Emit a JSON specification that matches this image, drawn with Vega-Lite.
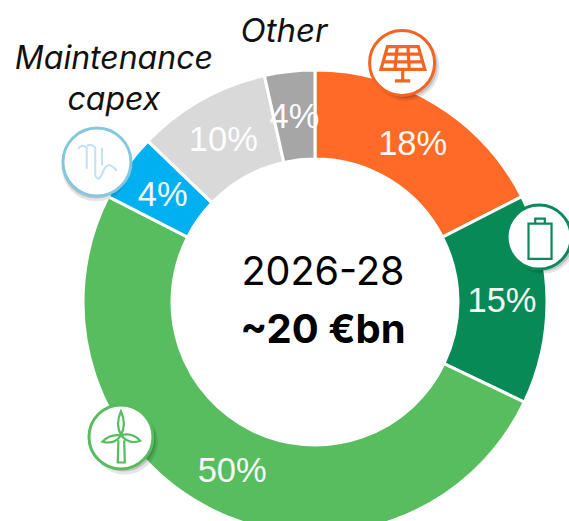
{
"$schema":"https://vega.github.io/schema/vega-lite/v6.json",
"width":508,"height":438,
"autosize":"none",
"padding":{"left":61,"top":83,"right":0,"bottom":0},
"background":"white",
"config":{"view":{"stroke":null}},
"data":{"values":[
{"segment":"Solar","share":17.5,"rank":1,"label":"18%"},
{"segment":"Storage","share":14.6,"rank":2,"label":"15%"},
{"segment":"Wind","share":50.4,"rank":3,"label":"50%"},
{"segment":"Maintenance\ncapex","share":4.7,"rank":4,"label":"4%"},
{"segment":"Grid","share":9.3,"rank":5,"label":"10%"},
{"segment":"Other","share":3.5,"rank":6,"label":"4%"}
]},
"layer":[
{"mark":{"type":"arc","innerRadius":143,"outerRadius":232,"stroke":"white","strokeWidth":3},
 "encoding":{"theta":{"field":"share","type":"quantitative","stack":true},"order":{"field":"rank","type":"quantitative"},
 "color":{"field":"segment","type":"nominal","legend":null,"scale":{"domain":["Solar","Storage","Wind","Maintenance\ncapex","Grid","Other"],"range":["#ff6a26","#078a56","#57bd5f","#00b0f0","#d9d9d9","#a6a6a6"]}}}},
{"mark":{"type":"text","radius":187,"dy":2,"fontSize":34.5,"font":"Liberation Sans","color":"white","opacity":0.95,"baseline":"middle"},
 "encoding":{"theta":{"field":"share","type":"quantitative","stack":true},"order":{"field":"rank","type":"quantitative"},"text":{"field":"label"}}},
{"mark":{"type":"text","radius":274,"dx":-1,"dy":2,"fontSize":33,"font":"Inter","fontStyle":"italic","color":"#111111","baseline":"middle"},
 "encoding":{"theta":{"field":"share","type":"quantitative","stack":true},"order":{"field":"rank","type":"quantitative"},
 "text":{"condition":{"test":"datum.segment=='Other'","field":"segment"},"value":""}}},
{"mark":{"type":"text","radius":250,"dx":2.5,"dy":-98,"fontSize":32,"font":"Inter","fontStyle":"italic","color":"#111111","baseline":"middle","lineBreak":"\n","lineHeight":41},
 "encoding":{"theta":{"field":"share","type":"quantitative","stack":true},"order":{"field":"rank","type":"quantitative"},
 "text":{"condition":{"test":"datum.rank==4","field":"segment"},"value":""}}},
{"data":{"values":[{"t":"2026-28"}]},"mark":{"type":"text","dx":8,"dy":-29,"fontSize":39.5,"font":"Inter","color":"#000000","baseline":"middle"},"encoding":{"text":{"field":"t"}}},
{"data":{"values":[{"t":"~20 €bn"}]},"mark":{"type":"text","dx":8,"dy":29,"fontSize":40,"font":"Inter","fontWeight":"bold","color":"#000000","baseline":"middle"},"encoding":{"text":{"field":"t"}}},
{"transform":[{"filter":"datum.rank==1"}],
 "encoding":{"x":{"datum":0.377,"type":"quantitative","axis":null,"scale":{"domain":[-1.0996,1.0996],"nice":false,"zero":false}},"y":{"datum":1.035,"type":"quantitative","axis":null,"scale":{"domain":[-0.948,0.948],"nice":false,"zero":false}}},
 "layer":[
 {"mark":{"type":"point","filled":true,"size":4500,"color":"#000000","opacity":0.1,"xOffset":4,"yOffset":4,"shape":"circle"}},
 {"mark":{"type":"point","filled":true,"size":4200,"color":"#000000","opacity":0.15,"xOffset":3,"yOffset":3,"shape":"circle"}},
 {"mark":{"type":"point","fill":"white","fillOpacity":1,"stroke":"#f26522","strokeWidth":3,"size":4225,"shape":"circle","opacity":1}},
 {"mark":{"type":"point","fill":"transparent","stroke":"#f26522","strokeWidth":3.2,"size":4225,"opacity":1,"shape":"M-0.45 -0.5L0.5 -0.5L0.7 0.2L-0.65 0.2Z M-0.5 -0.27L0.55 -0.27 M-0.58 -0.03L0.62 -0.03 M-0.15 -0.5L-0.22 0.2 M0.18 -0.5L0.22 0.2 M0.02 0.2L0.02 0.55 M-0.22 0.55L0.25 0.55"}}
 ]},
{"transform":[{"filter":"datum.rank==2"}],
 "encoding":{"x":{"datum":0.97,"type":"quantitative","axis":null,"scale":{"domain":[-1.0996,1.0996],"nice":false,"zero":false}},"y":{"datum":0.281,"type":"quantitative","axis":null,"scale":{"domain":[-0.948,0.948],"nice":false,"zero":false}}},
 "layer":[
 {"mark":{"type":"point","filled":true,"size":4300,"color":"#000000","opacity":0.1,"xOffset":4,"yOffset":4,"shape":"circle"}},
 {"mark":{"type":"point","filled":true,"size":4000,"color":"#000000","opacity":0.15,"xOffset":3,"yOffset":3,"shape":"circle"}},
 {"mark":{"type":"point","fill":"white","fillOpacity":1,"stroke":"#0a8a5a","strokeWidth":3,"size":4096,"shape":"circle","opacity":1}},
 {"mark":{"type":"point","fill":"transparent","stroke":"#0a8a5a","strokeWidth":2.2,"size":4096,"opacity":1,"shape":"M-0.33 -0.42L0.39 -0.42L0.39 0.68L-0.33 0.68Z M-0.12 -0.42L-0.12 -0.58L0.18 -0.58L0.18 -0.42"}}
 ]},
{"transform":[{"filter":"datum.rank==4"}],
 "encoding":{"x":{"datum":-0.944,"type":"quantitative","axis":null,"scale":{"domain":[-1.0996,1.0996],"nice":false,"zero":false}},"y":{"datum":0.606,"type":"quantitative","axis":null,"scale":{"domain":[-0.948,0.948],"nice":false,"zero":false}}},
 "layer":[
 {"mark":{"type":"point","filled":true,"size":4700,"color":"#000000","opacity":0.1,"xOffset":-1,"yOffset":5,"shape":"circle"}},
 {"mark":{"type":"point","filled":true,"size":4500,"color":"#000000","opacity":0.15,"xOffset":-1,"yOffset":3,"shape":"circle"}},
 {"mark":{"type":"point","fill":"white","fillOpacity":1,"stroke":"#86c7e0","strokeWidth":3,"size":4624,"shape":"circle","opacity":1}},
 {"mark":{"type":"point","fill":"transparent","stroke":"#bfe3f2","strokeWidth":2,"size":4624,"opacity":1,"shape":"M-0.55 -0.38Q-0.45 -0.55 -0.3 -0.42L-0.3 0.2 M-0.3 -0.48Q-0.15 -0.55 -0.05 -0.42L-0.05 0.4Q0.05 0.6 0.15 0.35Q0.25 0.05 0.4 0.1Q0.5 0.15 0.58 0.25 M0.15 -0.42L0.15 0.1"}}
 ]},
{"transform":[{"filter":"datum.rank==3"}],
 "encoding":{"x":{"datum":-0.84,"type":"quantitative","axis":null,"scale":{"domain":[-1.0996,1.0996],"nice":false,"zero":false}},"y":{"datum":-0.584,"type":"quantitative","axis":null,"scale":{"domain":[-0.948,0.948],"nice":false,"zero":false}}},
 "layer":[
 {"mark":{"type":"point","filled":true,"size":4300,"color":"#000000","opacity":0.1,"xOffset":4,"yOffset":5,"shape":"circle"}},
 {"mark":{"type":"point","filled":true,"size":4000,"color":"#000000","opacity":0.15,"xOffset":3,"yOffset":3,"shape":"circle"}},
 {"mark":{"type":"point","fill":"white","fillOpacity":1,"stroke":"#56bc5e","strokeWidth":3,"size":4096,"shape":"circle","opacity":1}},
 {"mark":{"type":"point","fill":"transparent","stroke":"#56bc5e","strokeWidth":2.2,"size":4096,"opacity":1,"shape":"M-0.08 0.1L-0.1 0.8L0.12 0.8L0.1 0.1 M0 -0.05Q-0.18 -0.4 0 -0.8Q0.18 -0.4 0 -0.05 M0 -0.05Q-0.35 -0.1 -0.58 0.15Q-0.2 0.25 0 -0.05 M0 -0.05Q0.35 -0.15 0.6 0.12Q0.25 0.25 0 -0.05"}}
 ]}
]
}
